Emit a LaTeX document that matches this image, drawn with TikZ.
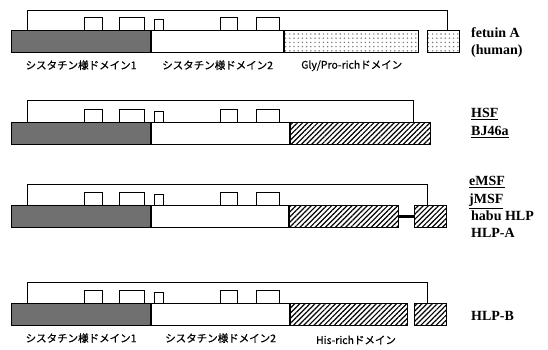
\documentclass[tikz,border=0pt]{standalone}
\usepackage{fontspec}
\setmainfont{Liberation Serif}
\newfontfamily\jpfont{Noto Sans CJK JP}[FakeBold=0.6]
\usepackage{tikz}
\usetikzlibrary{patterns, patterns.meta, positioning}
\definecolor{cysgray}{RGB}{112,112,112}
\definecolor{dotgray}{RGB}{120,120,120}

\begin{document}
\begin{tikzpicture}[x=1pt, y=-1pt,
	dom/.style={draw, line width=1.1pt, inner sep=0pt, minimum height=22pt, anchor=north west},
	cys1/.style={dom, fill=cysgray},
	cys2/.style={dom, fill=white},
	glypro/.style={dom, pattern={Dots[distance=4.2pt, radius=0.8pt]}, pattern color=dotgray},
	hisrich/.style={dom, pattern={Lines[angle=45, distance=3.6pt, line width=1.2pt]}},
	ssbond/.style={draw, line width=1pt},
	dname/.style={font=\jpfont\fontsize{10.5}{12}\selectfont, inner sep=0pt},
	pname/.style={anchor=west, inner sep=0pt, text height=9pt, text depth=2pt,
		font=\bfseries\fontsize{14}{16}\selectfont}]
	\useasboundingbox (0,0) rectangle (548,349);

	% fetuin A
	\node (f-cys1) at (11,30) [cys1, minimum width=139pt] {};
	\node (f-cys2) at (f-cys1.north east) [cys2, minimum width=132pt] {};
	\node (f-gly) at (f-cys2.north east) [glypro, minimum width=134pt] {};
	\node (f-tail) at (427,30) [glypro, minimum width=32pt] {};
	\path[ssbond] ([xshift=16pt]f-cys1.north west) -- ++(0,-20) -| ([xshift=20pt]f-tail.north west);

	% HSF / BJ46a
	\node (h-cys1) at (11,122) [cys1, minimum width=139pt] {};
	\node (h-cys2) at (h-cys1.north east) [cys2, minimum width=138pt] {};
	\node (h-his) at (h-cys2.north east) [hisrich, minimum width=140pt] {};
	\path[ssbond] ([xshift=16pt]h-cys1.north west) -- ++(0,-22) -| ([xshift=123pt]h-his.north west);

	% eMSF / jMSF / habu HLP / HLP-A
	\node (m-cys1) at (11,205) [cys1, minimum width=139pt] {};
	\node (m-cys2) at (m-cys1.north east) [cys2, minimum width=137pt] {};
	\node (m-his) at (m-cys2.north east) [hisrich, minimum width=109pt] {};
	\node (m-tail) at (414,205) [hisrich, minimum width=32pt] {};
	\path[draw, line width=2.2pt] (m-his.east) -- (m-tail.west);
	\path[ssbond] ([xshift=16pt]m-cys1.north west) -- ++(0,-21) -| ([xshift=13pt]m-tail.north west);

	% HLP-B
	\node (b-cys1) at (11,303) [cys1, minimum width=139pt] {};
	\node (b-cys2) at (b-cys1.north east) [cys2, minimum width=138pt] {};
	\node (b-his) at (b-cys2.north east) [hisrich, minimum width=117pt] {};
	\node (b-tail) at (414,303) [hisrich, minimum width=32pt] {};
	\path[ssbond] ([xshift=16pt]b-cys1.north west) -- ++(0,-21) -| ([xshift=13pt]b-tail.north west);

	\foreach \t in {30,122,205,303}
		\foreach \a/\b/\h in {84/102/13, 119/144/13, 154/163/11, 220/237/13, 256/279/13}
			\path[ssbond] (\a,\t) |- (\b,{\t-\h}) -- (\b,\t);

	\node (d-cys1) [dname, below=7pt of f-cys1] {シスタチン様ドメイン1};
	\node (d-cys2) [dname, below=7pt of f-cys2] {シスタチン様ドメイン2};
	\node (d-gly) [dname, below=7pt of f-gly] {Gly/Pro-richドメイン};
	\node (d-cys1b) [dname, below=7pt of b-cys1] {シスタチン様ドメイン1};
	\node (d-cys2b) [dname, below=7pt of b-cys2] {シスタチン様ドメイン2};
	\node (d-his) at (356,340) [dname] {His-richドメイン};

	\node (p-fet) at (471,34) [pname] {fetuin A};
	\node (p-hum) at (471,51) [pname] {(human)};
	\node (p-hsf) at (471,114) [pname] {\underline{HSF}};
	\node (p-bj) at (471,132) [pname] {\underline{BJ46a}};
	\node (p-emsf) at (469,182) [pname] {\underline{eMSF}};
	\node (p-jmsf) at (469,200) [pname] {\underline{jMSF}};
	\node (p-habu) at (471,217) [pname] {habu HLP};
	\node (p-hlpa) at (471,234) [pname] {HLP-A};
	\node (p-hlpb) at (471,317) [pname] {HLP-B};
\end{tikzpicture}
\end{document}
